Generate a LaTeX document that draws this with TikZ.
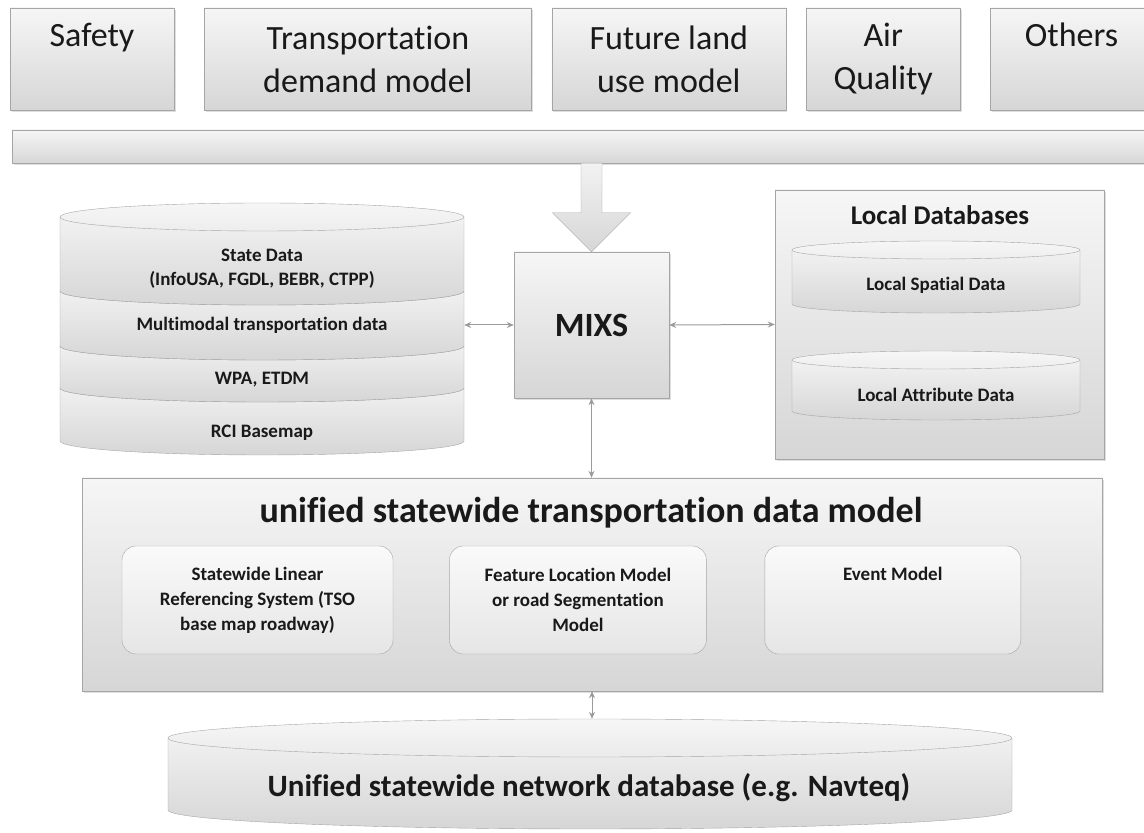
\documentclass[tikz,border=0pt]{standalone}
\usepackage{fontspec}
\setmainfont{Carlito}[Ligatures={NoCommon,NoContextual,NoRare}, Contextuals=NoAlternate]
\usetikzlibrary{positioning, calc, fit, shadows, arrows.meta}
\definecolor{boxtop}{RGB}{246,246,246}
\definecolor{boxbot}{RGB}{214,214,214}
\definecolor{boxline}{RGB}{165,165,165}
\definecolor{linkgray}{RGB}{155,155,155}
\definecolor{inktext}{RGB}{25,25,25}
% cylinder body: centre x, top y, bottom y, x radius, y radius
\newcommand{\dbcyl}[5]{%
  \draw[dbfill] ({#1-#4},#2) -- ({#1-#4},#3)
    arc[start angle=180, end angle=360, x radius=#4, y radius=#5]
    -- ({#1+#4},#2)
    arc[start angle=0, end angle=180, x radius=#4, y radius=#5] -- cycle;
  \draw[boxline] ({#1-#4},#2) arc[start angle=180, end angle=360, x radius=#4, y radius=#5];}

\begin{document}
\begin{tikzpicture}[
    x=1pt, y=1pt,
    topbox/.style={rectangle, draw=boxline, top color=boxtop, bottom color=boxbot, minimum height=102pt, align=center, text=inktext, font=\fontsize{34}{43}\selectfont, drop shadow={shadow xshift=1.5pt, shadow yshift=-2pt, opacity=0.25}},
    panel/.style={rectangle, draw=boxline, top color=boxtop, bottom color=boxbot, drop shadow={shadow xshift=1.5pt, shadow yshift=-2pt, opacity=0.25}},
    innerbox/.style={rectangle, rounded corners=14pt, draw=boxline, top color=gray!4, bottom color=gray!20, minimum height=108pt, align=center, text=inktext, font=\bfseries\fontsize{19}{25}\selectfont},
    dbfill/.style={draw=boxline, top color=boxtop, bottom color=boxbot},
    dblabel/.style={align=center, text=inktext, font=\bfseries\fontsize{19}{24}\selectfont},
    link/.style={{Stealth[length=7pt,width=6pt]}-{Stealth[length=7pt,width=6pt]}, draw=linkgray, line width=1pt},
    bigarrow/.style={draw=boxline, top color=gray!10, bottom color=gray!32}
]
\useasboundingbox (0,0) rectangle (1144,833);

% Applications
\node[topbox, minimum width=164pt] (safety) at (92,774) {Safety\\\phantom{y}};
\node[topbox, minimum width=327pt, right=30pt of safety] (transport) {Transportation\\demand model};
\node[topbox, minimum width=234pt, right=20pt of transport] (landuse) {Future land\\use model};
\node[topbox, minimum width=154pt, right=20pt of landuse] (airq) {Air\\Quality};
\node[topbox, minimum width=162pt, right=30pt of airq] (others) {Others\\\phantom{y}};

% Bar and MIXS
\node[panel, minimum width=1148pt, minimum height=33pt] (bar) at (586,686.5) {};
\node[panel, minimum width=155pt, minimum height=146pt, text=inktext, font=\bfseries\fontsize{34}{40}\selectfont] (mixs) at (591.5,508) {MIXS};
\draw[bigarrow] (mixs.north) -- ++(-39,39) -- ++(28.5,0) -- ($(mixs.north |- bar.south)+(-10.5,0)$) -- ($(mixs.north |- bar.south)+(10.5,0)$) -- ($(mixs.north)+(10.5,39)$) -- ++(28.5,0) -- cycle;

% State data
\dbcyl{262}{445}{392}{202}{14}
\dbcyl{262}{487}{445}{202}{14}
\dbcyl{262}{542}{487}{202}{14}
\dbcyl{262}{616}{542}{202}{14}
\node[fit={(60,378) (464,630)}, inner sep=0pt] (statedb) {};
\node[dblabel] (statedata) at (262,564) {State Data\\(InfoUSA, FGDL, BEBR, CTPP)};
\node[dblabel] (multimodal) at (262,508) {Multimodal transportation data};
\node[dblabel] (wpa) at (262,453) {WPA, ETDM};
\node[dblabel] (rci) at (262,400) {RCI Basemap};

% Local databases
\node[panel, minimum width=329pt, minimum height=269pt] (localdb) at (939.5,508.5) {};
\node[text=inktext, font=\bfseries\fontsize{27}{32}\selectfont] (localtitle) at (940,618) {Local Databases};
\dbcyl{936}{583}{529}{144}{9}
\dbcyl{936}{473}{422}{144}{9}
\node[dblabel] (spatial) at (936,548) {Local Spatial Data};
\node[dblabel] (attribute) at (936,438) {Local Attribute Data};

% Unified data model
\node[panel, minimum width=1020pt, minimum height=213pt] (usdm) at (592,248.5) {};
\node[text=inktext, font=\bfseries\fontsize{36}{42}\selectfont] (usdmtitle) at (591,320) {unified statewide transportation data model};
\node[innerbox, minimum width=271pt] (slrs) at (257.5,233) {Statewide Linear\\Referencing System (TSO\\base map roadway)};
\node[innerbox, minimum width=257pt, right=56pt of slrs] (flm) {Feature Location Model\\or road Segmentation\\Model};
\node[innerbox, minimum width=256pt, right=58pt of flm] (event) {Event Model\\\phantom{y}\\\phantom{y}};

% Network database
\dbcyl{590}{95}{23}{422}{19}
\node[fit={(168,4) (1012,114)}, inner sep=0pt] (netdb) {};
\node[text=inktext, font=\bfseries\fontsize{31}{36}\selectfont] (netlabel) at (589,45) {Unified statewide network database (e.g. Navteq)};

% Links
\draw[link] (statedb.east |- mixs.west) -- (mixs.west);
\draw[link] (mixs.east) -- (localdb.west);
\draw[link] (mixs.south) -- (mixs.south |- usdm.north);
\draw[link] (usdm.south) -- (usdm.south |- netdb.north);

\end{tikzpicture}
\end{document}
